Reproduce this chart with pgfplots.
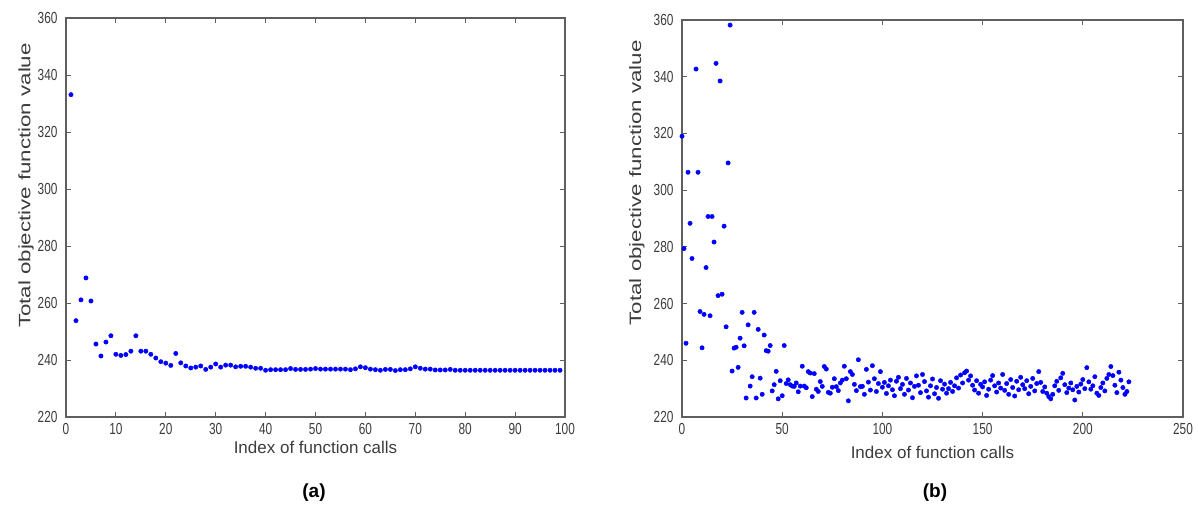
\documentclass[border=0pt]{standalone}
\usepackage{fontspec}
\setmainfont{Liberation Sans}
\newfontfamily\tickfont{Liberation Sans}[FakeStretch=0.74]
\newfontfamily\ylabfont{Liberation Sans}[FakeStretch=1.35]
\usepackage{graphicx}
\usepackage{pgfplots}
\pgfplotsset{compat=1.18}
\definecolor{txtgray}{RGB}{60,60,60}
\definecolor{axgray}{RGB}{95,95,95}
\pgfplotsset{
  mystyle/.style={
    scale only axis,
    anchor=south west,
    axis line style={axgray, line width=1.3pt},
    tick style={axgray, line width=0.9pt},
    major tick length=5pt,
    tick align=inside,
    xtick pos=both, ytick pos=both,
    ymin=220, ymax=360, ytick={220,240,...,360},
    /pgf/number format/assume math mode=true,
    ticklabel style={font=\fontsize{16}{16}\selectfont\tickfont, text=txtgray},
    yticklabel style={xshift=-5pt},
    xticklabel style={yshift=-3pt},
    xlabel={Index of function calls},
    ylabel={Total objective function value},
    xlabel style={font=\fontsize{17}{17}\selectfont, text=txtgray, anchor=center},
    ylabel style={font=\fontsize{16.5}{16.5}\selectfont\ylabfont, text=txtgray, anchor=center, rotate=0},
    scaled ticks=false,
  }
}
\begin{document}
\begin{tikzpicture}[x=1pt,y=1pt]
\useasboundingbox (0,0) rectangle (1198,514);
\begin{axis}[mystyle,
  at={(66pt,97pt)}, width=499pt, height=399pt,
  xmin=0, xmax=100, xtick={0,10,...,100},
  xlabel style={at={(axis description cs:0.5,-0.075)}},
  ylabel style={at={(axis description cs:-0.080,0.58)}},
]
\addplot[only marks, mark=*, mark size=2.2pt, color=blue] coordinates {
(1,333.1)(2,253.8)(3,261.1)(4,268.8)(5,260.7)(6,245.6)(7,241.4)(8,246.3)(9,248.5)(10,242.0)
(11,241.6)(12,241.9)(13,243.1)(14,248.5)(15,243.1)(16,243.1)(17,242.0)(18,240.7)(19,239.4)(20,238.9)
(21,238.1)(22,242.3)(23,239.0)(24,237.9)(25,237.2)(26,237.5)(27,237.9)(28,236.7)(29,237.5)(30,238.6)
(31,237.5)(32,238.2)(33,238.2)(34,237.6)(35,237.8)(36,237.8)(37,237.5)(38,237.1)(39,237.1)(40,236.4)
(41,236.6)(42,236.6)(43,236.6)(44,236.6)(45,237.0)(46,236.7)(47,236.7)(48,236.7)(49,236.8)(50,237.0)
(51,236.8)(52,236.8)(53,236.8)(54,236.8)(55,236.8)(56,236.8)(57,236.6)(58,236.9)(59,237.6)(60,237.3)
(61,236.8)(62,236.6)(63,236.4)(64,236.7)(65,236.7)(66,236.3)(67,236.6)(68,236.6)(69,236.9)(70,237.6)
(71,237.1)(72,236.8)(73,236.8)(74,236.5)(75,236.5)(76,236.5)(77,236.7)(78,236.4)(79,236.4)(80,236.4)
(81,236.4)(82,236.4)(83,236.4)(84,236.4)(85,236.4)(86,236.4)(87,236.4)(88,236.4)(89,236.4)(90,236.4)
(91,236.4)(92,236.4)(93,236.4)(94,236.4)(95,236.4)(96,236.4)(97,236.4)(98,236.4)(99,236.4)
};
\end{axis}
\begin{axis}[mystyle,
  at={(682pt,97pt)}, width=501pt, height=397pt,
  xmin=0, xmax=250, xtick={0,50,...,250},
  xlabel style={at={(axis description cs:0.5,-0.090)}},
  ylabel style={at={(axis description cs:-0.090,0.59)}},
]
\addplot[only marks, mark=*, mark size=2.2pt, color=blue] coordinates {
(0,319.0)(1,279.4)(2,246.0)(3,306.3)(4,288.3)(5,275.9)(7,342.7)(8,306.3)(9,257.2)(10,244.4)
(11,256.2)(12,272.7)(13,290.7)(14,255.7)(15,290.7)(16,281.7)(17,344.7)(18,262.8)(19,338.5)(20,263.3)
(21,287.3)(22,251.8)(23,309.6)(24,358.2)(25,236.2)(26,244.3)(27,244.6)(28,237.5)(29,247.8)(30,256.9)
(31,245.1)(32,226.7)(33,252.5)(34,230.9)(35,234.2)(36,256.9)(37,226.7)(38,250.9)(39,233.7)(40,228.0)
(41,248.9)(42,243.4)(43,243.2)(44,245.2)(45,229.2)(46,231.4)(47,236.1)(48,226.4)(49,232.8)(50,227.5)
(51,245.2)(52,231.8)(53,233.1)(54,231.4)(55,230.9)(56,230.8)(57,232.0)(58,228.9)(59,230.9)(60,237.9)
(61,230.9)(62,230.3)(63,236.0)(64,235.5)(65,227.2)(66,235.3)(67,229.8)(68,229.0)(69,232.5)(70,230.8)
(71,237.8)(72,236.9)(73,228.7)(74,228.4)(75,230.5)(76,233.5)(77,230.7)(78,229.3)(79,232.0)(80,233.0)
(81,237.9)(82,233.5)(83,225.7)(84,236.0)(85,235.0)(86,231.5)(87,229.3)(88,240.2)(89,230.7)(90,230.8)
(91,228.0)(92,236.8)(93,232.3)(94,229.5)(95,238.1)(96,233.5)(97,229.0)(98,231.8)(99,236.0)(100,230.5)
(101,232.2)(102,228.3)(103,231.0)(104,233.0)(105,229.6)(106,227.5)(107,232.6)(108,234.0)(109,230.0)(110,231.5)
(111,228.0)(112,233.6)(113,229.5)(114,232.0)(115,226.8)(116,230.8)(117,234.5)(118,231.2)(119,228.6)(120,235.0)
(121,232.5)(122,229.2)(123,227.0)(124,231.0)(125,233.4)(126,228.2)(127,230.4)(128,226.6)(129,232.8)(130,229.8)
(131,231.6)(132,228.4)(133,230.0)(134,232.2)(135,229.0)(136,231.0)(137,233.8)(138,230.2)(139,234.8)(140,232.0)
(141,235.6)(142,236.2)(143,233.0)(144,234.5)(145,231.2)(146,229.5)(147,232.8)(148,228.4)(149,231.5)(150,230.6)
(151,232.4)(152,227.6)(153,229.8)(154,233.0)(155,234.6)(156,231.0)(157,228.8)(158,232.0)(159,230.2)(160,235.0)
(161,229.4)(162,231.8)(163,228.0)(164,233.2)(165,230.4)(166,227.4)(167,232.6)(168,229.6)(169,234.0)(170,231.4)
(171,230.0)(172,232.8)(173,228.2)(174,230.8)(175,233.6)(176,229.2)(177,231.8)(178,236.0)(179,232.2)(180,229.0)
(181,230.6)(182,228.4)(183,227.2)(184,226.4)(185,228.0)(186,231.0)(187,232.6)(188,229.4)(189,233.8)(190,235.4)
(191,231.4)(192,228.6)(193,230.2)(194,232.0)(195,229.6)(196,226.0)(197,230.8)(198,228.8)(199,231.6)(200,233.2)
(201,230.0)(202,237.4)(203,232.4)(204,229.8)(205,231.0)(206,234.2)(207,228.4)(208,227.6)(209,230.4)(210,232.0)
(211,229.2)(212,233.6)(213,235.0)(214,237.8)(215,234.6)(216,231.2)(217,228.6)(218,235.8)(219,233.0)(220,230.4)
(221,228.0)(222,229.0)(223,232.4)
};
\end{axis}
\node[font=\fontsize{19}{19}\selectfont\bfseries, text=black] at (314,21) {(a)};
\node[font=\fontsize{19}{19}\selectfont\bfseries, text=black] at (935,21) {(b)};
\end{tikzpicture}
\end{document}
